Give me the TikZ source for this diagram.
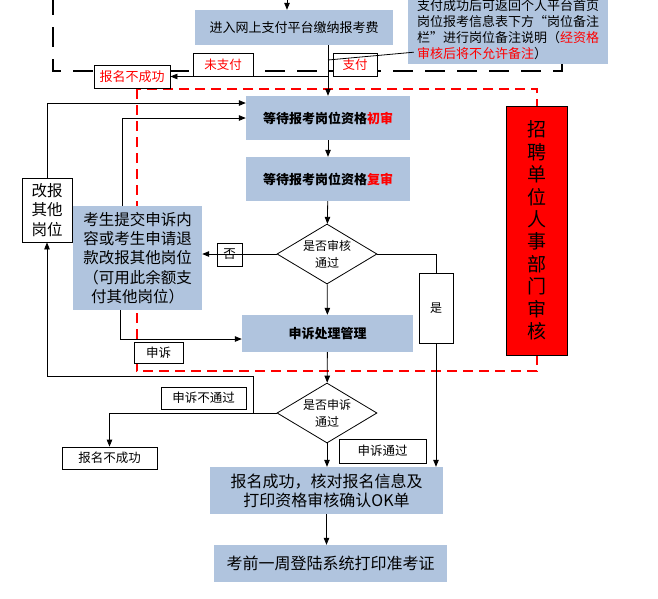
\documentclass[tikz,border=0pt]{standalone}
\usepackage{fontspec}
\setmainfont{Noto Sans CJK SC}
\usepackage{xcolor}
\definecolor{boxblue}{HTML}{B0C4DE}
\usepackage{tikz}
\usetikzlibrary{arrows.meta, positioning, shapes.geometric}
\newcommand{\fs}[2]{\fontsize{#1}{#2}\selectfont}
\tikzset{%
    stepbox/.style={%
        fill=boxblue, draw=none, inner sep=0, align=center, text=black,
    },
    tag/.style={%
        draw, fill=white, line width=0.8pt, inner sep=0, align=center, font=\fs{12.5}{14},
    },
    redtag/.style={%
        tag, text=red,
    },
    decision/.style={%
        diamond, draw, fill=white, aspect=1.67, inner sep=0, line width=0.8pt,
        minimum width=100pt, minimum height=60pt, align=center, font=\fs{12}{17},
    },
}

\begin{document}
\begin{tikzpicture}[
        x=1pt, y=-1pt,
        arr/.style={-{Triangle[length=7pt,width=5.5pt]}, line width=0.8pt},
        link/.style={line width=0.8pt},
        blackdash/.style={line width=1.5pt, dash pattern=on 20pt off 12pt},
        reddash/.style={red, line width=1.3pt, dash pattern=on 10pt off 6pt},
    ]
        \useasboundingbox (0,0) rectangle (658,598);

        % dashed frames
        \draw[blackdash] (53,-5) -- (53,71) -- (562,71) -- (562,64);
        \draw[reddash] (137,89) rectangle (537,371);

        % payment
        \node[stepbox, minimum width=198pt, minimum height=35pt, font=\fs{13}{16}] (pay) at (294,27.5) {进入网上支付平台缴纳报考费};
        \node[stepbox, minimum width=200pt, minimum height=68pt, align=left, font=\fs{13}{16}] (note) at (508,30) {支付成功后可返回个人平台首页\\岗位报考信息表下方“岗位备注\\栏”进行岗位备注说明（\textcolor{red}{经资格}\\\textcolor{red}{审核后将不允许备注}）};
        \node[redtag, minimum width=60pt, minimum height=23pt] (nopay) at (223,64.5) {未支付};
        \node[redtag, minimum width=44pt, minimum height=23pt] (paid) at (355,64.5) {支付};
        \node[redtag, minimum width=76pt, minimum height=23pt, font=\fs{13}{14}] (fail1) at (132,76.5) {报名不成功};

        % review
        \node[stepbox, minimum width=164pt, minimum height=44pt, font=\bfseries\fs{13}{16}] (first) at (328,118) {等待报考岗位资格\textcolor{red}{初审}};
        \node[stepbox, minimum width=164pt, minimum height=44pt, font=\bfseries\fs{13}{16}] (second) at (328,179) {等待报考岗位资格\textcolor{red}{复审}};
        \node[decision] (check) at (327,254) {是否审核\\通过};
        \node[stepbox, minimum width=129pt, minimum height=104pt, font=\fs{15.5}{19.3}] (appeal) at (137.5,258) {考生提交申诉内\\容或考生申请退\\款改报其他岗位\\（可用此余额支\\付其他岗位）};
        \node[tag, fill=white, minimum width=50pt, minimum height=64pt, font=\fs{15.5}{19.5}] (other) at (47,210) {改报\\其他\\岗位};
        \node[stepbox, minimum width=171pt, minimum height=37pt, font=\bfseries\fs{13}{16}] (handle) at (327.5,333.5) {申诉处理管理};
        \node[tag, minimum width=34pt, minimum height=70pt, font=\fs{12}{14}] (yes) at (436,308) {是};
        \node[tag, minimum width=49pt, minimum height=21pt] (appealtag) at (158.5,352.5) {申诉};
        \node[draw, fill=red, line width=0.8pt, minimum width=61pt, minimum height=249pt, inner sep=0, align=center, font=\fs{19}{22.4}] (hr) at (536.5,230.5) {招\\聘\\单\\位\\人\\事\\部\\门\\审\\核};

        % appeal result
        \node[decision] (check2) at (327,413) {是否申诉\\通过};
        \node[tag, minimum width=85pt, minimum height=22pt] (rejtag) at (203.5,398) {申诉不通过};
        \node[tag, minimum width=95pt, minimum height=22pt] (fail2) at (109.5,458) {报名不成功};
        \node[tag, minimum width=87pt, minimum height=24pt] (passtag) at (382.5,451) {申诉通过};
        \node[stepbox, minimum width=233pt, minimum height=47pt, font=\fs{16}{19}] (success) at (326.5,490.5) {报名成功，核对报名信息及\\打印资格审核确认OK单};
        \node[stepbox, minimum width=233pt, minimum height=37pt, font=\fs{16}{19}] (admit) at (330.5,563.5) {考前一周登陆系统打印准考证};

        \coordinate (entry) at (287,0);
        \coordinate (nopaysplit) at (first.north |- fail1.east);
        \coordinate (callout) at (first.north |- 0,60);
        \coordinate (backup) at (47,376);

        \draw[arr] (entry) -- (entry |- pay.north);
        \draw[arr] (pay.south -| first.north) -- (first.north);
        \draw[arr] (nopaysplit) -- (fail1.east);
        \draw[link] (callout) -- ([xshift=6pt,yshift=12pt]note.south west);
        \draw[arr] (first) -- (second);
        \draw[arr] (second) -- (check);
        \draw[arr] (check) -- (handle);
        \draw[arr] (check.west) -- (check.west -| appeal.east);
        \node[tag, fill=none, minimum width=25pt, minimum height=23pt] (notag) at (229.5,254.5) {否};
        \draw[link] (check.east) -| (yes.north);
        \draw[arr] (yes.south) -- (yes.south |- success.north);
        \draw[arr] (other.north) |- ([yshift=15pt]first.west);
        \draw[arr] ([xshift=-15pt]appeal.north) |- (first.west);
        \draw[arr] ([xshift=-17pt]appeal.south) |- ([yshift=-5.5pt]handle.west);
        \draw[arr] (handle) -- (check2);
        \draw[arr] (check2.west) -| (fail2.north);
        \draw[arr] ([xshift=-23pt]check2.west) |- (backup) -- (other.south);
        \draw[arr] (check2.south) -- (check2.south |- success.north);
        \draw[arr] (success.south) -- (success.south |- admit.north);
\end{tikzpicture}
\end{document}
